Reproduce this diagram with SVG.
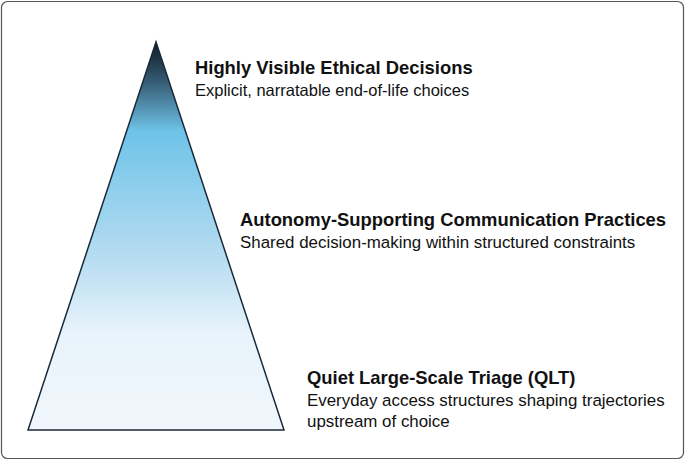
<svg xmlns="http://www.w3.org/2000/svg" width="685" height="460" viewBox="0 0 685 460">
<style>
.t{font-family:"Liberation Sans",Arial,sans-serif;font-size:16.9px;fill:#111}
.b{font-weight:bold;font-size:18.4px}
.s{font-size:16.5px}
</style>
<defs>
<linearGradient id="g" x1="0" y1="42" x2="0" y2="430" gradientUnits="userSpaceOnUse">
<stop offset="0" stop-color="#0f1a22"/>
<stop offset="0.1" stop-color="#355a72"/>
<stop offset="0.23" stop-color="#6ec3e8"/>
<stop offset="0.55" stop-color="#b5dcf1"/>
<stop offset="0.75" stop-color="#e8f3fb"/>
<stop offset="1" stop-color="#f1f7fc"/>
</linearGradient>
</defs>
<rect x="1.5" y="1.5" width="682" height="457" rx="6" fill="#fff" stroke="#555" stroke-width="1.2"/>
<g id="pyramid">
<polygon points="156,42 28,430 284,430" fill="url(#g)" stroke="#1a2a3a" stroke-width="1.5"/>
</g>
<g id="top">
<text class="t b" x="195" y="74">Highly Visible Ethical Decisions</text>
<text class="t s" x="195" y="96">Explicit, narratable end-of-life choices</text>
</g>
<g id="middle">
<text class="t b" x="240" y="226">Autonomy-Supporting Communication Practices</text>
<text class="t" x="240" y="248">Shared decision-making within structured constraints</text>
</g>
<g id="bottom">
<text class="t b" x="307" y="384">Quiet Large-Scale Triage (QLT)</text>
<text class="t" x="307" y="406">Everyday access structures shaping trajectories</text>
<text class="t" x="307" y="427">upstream of choice</text>
</g>
<g id="connectors"/>
</svg>
